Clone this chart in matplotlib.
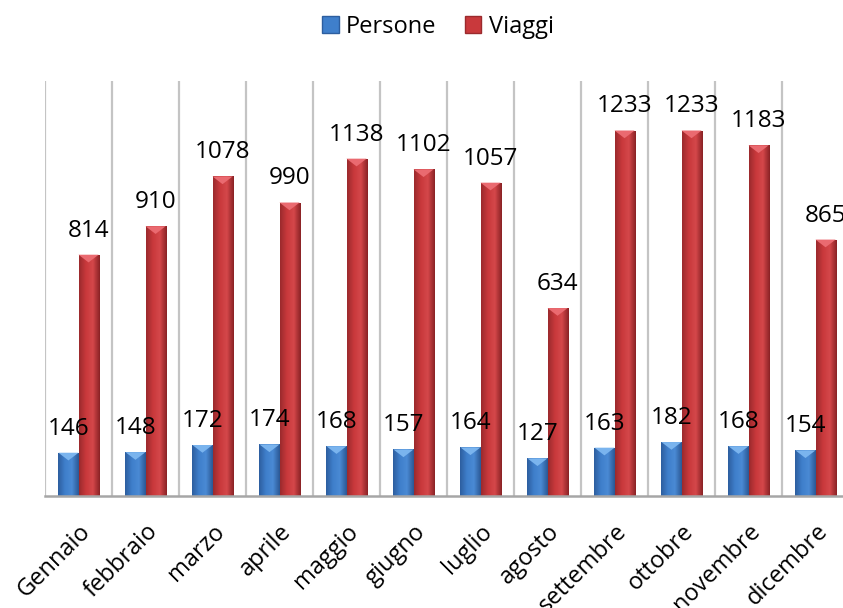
import numpy as np
import matplotlib
matplotlib.use('Agg')
import matplotlib.pyplot as plt
from matplotlib.colors import LinearSegmentedColormap
from matplotlib.patches import Patch, Polygon

mesi = ['Gennaio', 'febbraio', 'marzo', 'aprile', 'maggio', 'giugno',
        'luglio', 'agosto', 'settembre', 'ottobre', 'novembre', 'dicembre']
persone = [146, 148, 172, 174, 168, 157, 164, 127, 163, 182, 168, 154]
viaggi = [814, 910, 1078, 990, 1138, 1102, 1057, 634, 1233, 1233, 1183, 865]

plt.rcParams['font.family'] = ['Open Sans', 'DejaVu Sans']

fig = plt.figure(figsize=(8.43, 6.08), dpi=100)
ax = fig.add_axes([45/843, 112/608, 804/843, 415/608])

x = np.arange(len(mesi))
w = 0.3
b1 = ax.bar(x - w/2, persone, w, zorder=2)
b2 = ax.bar(x + w/2, viaggi, w, zorder=2)


# gradiente orizzontale stile excel
def shade(bars, cols, top):
    cmap = LinearSegmentedColormap.from_list('g', cols)
    grad = np.linspace(0, 1, 64).reshape(1, -1)
    for b in bars:
        x0, y0 = b.get_x(), b.get_y()
        bw, bh = b.get_width(), b.get_height()
        im = ax.imshow(grad, cmap=cmap, extent=[x0, x0 + bw, y0, y0 + bh],
                       aspect='auto', zorder=2)
        im.set_clip_path(b)
        b.set_facecolor('none')
        d = 26
        tri = Polygon([[x0, y0 + bh], [x0 + bw, y0 + bh], [x0 + bw/2, y0 + bh - d]],
                      closed=True, facecolor=top, edgecolor='none', zorder=3)
        ax.add_patch(tri)


shade(b1, ['#2d5e9f', '#3f7fcb', '#4a8ad4', '#2b5894'], '#7ab4ee')
shade(b2, ['#9b2a2d', '#c9393c', '#d4474a', '#8a2225'], '#ea6a70')

for xi, v in zip(x - w/2, persone):
    ax.annotate(str(v), (xi, v), xytext=(0, 13), textcoords='offset points',
                ha='center', va='baseline', fontsize=17.5, zorder=5)
for xi, v in zip(x + w/2, viaggi):
    ax.annotate(str(v), (xi, v), xytext=(0, 13), textcoords='offset points',
                ha='center', va='baseline', fontsize=17.5, zorder=5,
                annotation_clip=False)

ax.set_xlim(-0.5, len(mesi) - 0.5)
ax.set_ylim(0, 1400)

# linee verticali ogni mezza categoria
ax.set_xticks(np.arange(-0.5, len(mesi), 0.5), minor=True)
ax.grid(axis='x', which='minor', color='#c4c4c4', linewidth=1.6, zorder=0)
ax.set_axisbelow(True)

ax.set_xticks(x)
ax.set_xticklabels(mesi, rotation=45, ha='right', rotation_mode='anchor', fontsize=17)
ax.tick_params(axis='x', which='both', length=0, pad=17)
ax.set_yticks([])

for s in ['top', 'right', 'left']:
    ax.spines[s].set_visible(False)
ax.spines['bottom'].set_color('#a6a6a6')
ax.spines['bottom'].set_linewidth(1.8)

handles = [Patch(facecolor='#3f7fcb', edgecolor='#2d5e9f', label='Persone'),
           Patch(facecolor='#c9393c', edgecolor='#9b2a2d', label='Viaggi')]
fig.legend(handles=handles, loc='center', bbox_to_anchor=(438/843, 1 - 27/608),
           ncol=2, frameon=False, fontsize=17, handlelength=0.7, handleheight=0.7,
           handletextpad=0.3, columnspacing=1.2)

plt.savefig('out.png')
